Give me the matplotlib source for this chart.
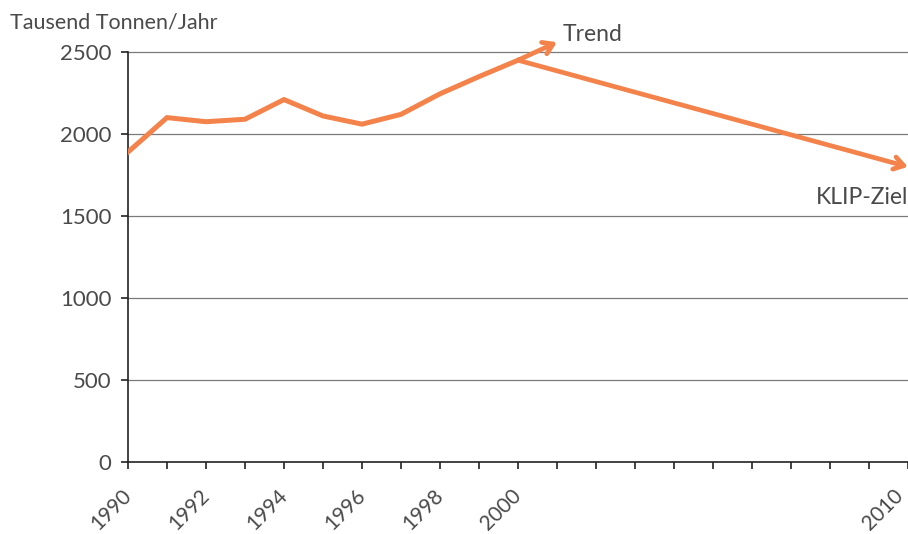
import matplotlib.pyplot as plt
from matplotlib.transforms import ScaledTranslation

# CO2-Emissionen, Tausend Tonnen pro Jahr
years = [1990, 1991, 1992, 1993, 1994, 1995, 1996, 1997, 1998, 1999, 2000]
values = [1890, 2100, 2075, 2090, 2210, 2110, 2060, 2120, 2245, 2350, 2450]

# Pfeile ab 2000: Trend und KLIP-Ziel 2010
trend_year, trend_value = 2001, 2560
target_year, target_value = 2010, 1800

year_labels = [1990, 1992, 1994, 1996, 1998, 2000, 2010]
y_ticks = [0, 500, 1000, 1500, 2000, 2500]

orange = '#f3834b'
text_col = '#4a4a4a'
plt.rcParams['font.family'] = ['Lato', 'DejaVu Sans']

fig = plt.figure(figsize=(9.08, 5.34), dpi=100)
ax = fig.add_axes([0.141, 0.1348, 0.859, 0.7678])

ax.plot(years, values, color=orange, lw=3.6, solid_joinstyle='miter', zorder=3)

arrow = dict(arrowstyle='->,head_length=0.7,head_width=0.45', color=orange,
             lw=3.4, shrinkA=0, shrinkB=0)
ax.annotate('', xy=(trend_year, trend_value), xytext=(years[-1], values[-1]),
            arrowprops=arrow, annotation_clip=False, zorder=4)
ax.annotate('', xy=(target_year, target_value), xytext=(years[-1], values[-1]),
            arrowprops=arrow, annotation_clip=False, zorder=4)

ax.text(trend_year + 0.15, 2605, 'Trend', fontsize=16.5, color=text_col,
        ha='left', va='center')
ax.text(target_year, 1615, 'KLIP-Ziel', fontsize=16.5, color=text_col,
        ha='right', va='center')

ax.set_xlim(1990, 2010)
ax.set_ylim(0, 2500)
ax.set_xticks(range(1990, 2011))
ax.set_xticklabels([str(y) if y in year_labels else '' for y in range(1990, 2011)],
                   rotation=45, ha='right', va='top', rotation_mode='anchor')
ax.set_yticks(y_ticks)
ax.set_yticklabels([str(v) for v in y_ticks])

for v in y_ticks[1:]:
    ax.axhline(v, color='#7a7a7a', lw=0.9, zorder=1, clip_on=False)

for side in ['top', 'right']:
    ax.spines[side].set_visible(False)
for side in ['left', 'bottom']:
    ax.spines[side].set_color('#222222')
    ax.spines[side].set_linewidth(1.2)

ax.tick_params(axis='both', colors='#222222', length=5, width=1.2,
               labelcolor=text_col, labelsize=16)
ax.tick_params(axis='y', pad=7)
ax.tick_params(axis='x', labelsize=15, pad=12)

# Jahreszahlen etwas nach links versetzen, 2010 am Rand etwas mehr
for lab in ax.get_xticklabels():
    dx = -11 if lab.get_text() == '2010' else -5
    shift = ScaledTranslation(dx / 72, 0, fig.dpi_scale_trans)
    lab.set_transform(lab.get_transform() + shift)

fig.text(0.011, 0.958, 'Tausend Tonnen/Jahr', fontsize=15.5, color=text_col,
         ha='left', va='center')

fig.savefig('out.png', dpi=100, facecolor='white')
